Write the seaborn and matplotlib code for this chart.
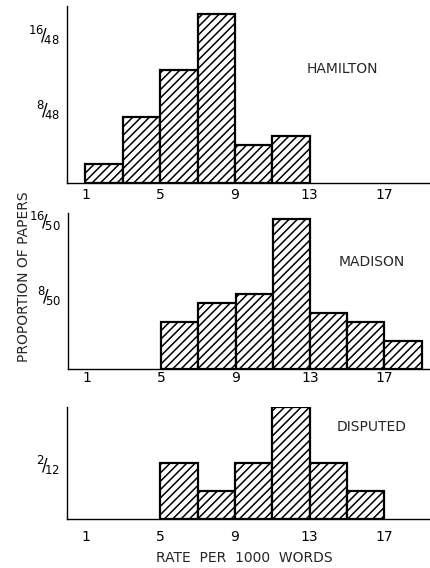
import numpy as np
import pandas as pd
import matplotlib
matplotlib.use('Agg')
import matplotlib.pyplot as plt
import seaborn as sns

sns.set_theme(style='white')
plt.rcParams['font.family'] = ['DejaVu Sans']
plt.rcParams['mathtext.fontset'] = 'dejavusans'
plt.rcParams['hatch.linewidth'] = 1.1

# datos: bins de ancho 2 (tasa por 1000 palabras) y numero de papeles por bin
hamilton_edges = [1, 3, 5, 7, 9, 11, 13]
hamilton_counts = [2, 7, 12, 18, 4, 5]
hamilton_total = 48

madison_edges = [5, 7, 9, 11, 13, 15, 17, 19]
madison_counts = [5, 7, 8, 16, 6, 5, 3]
madison_total = 50

disputed_edges = [5, 7, 9, 11, 13, 15, 17]
disputed_counts = [2, 1, 2, 4, 2, 1]
disputed_total = 12

x_ticks = [1, 5, 9, 13, 17]

panels = [
    ("HAMILTON", hamilton_edges, hamilton_counts, hamilton_total, [8, 16], 18.8),
    ("MADISON", madison_edges, madison_counts, madison_total, [8, 16], 16.6),
    ("DISPUTED", disputed_edges, disputed_counts, disputed_total, [2], 4.02),
]
# posiciones de los ejes en fraccion de figura (left, bottom, width, height)
boxes = [
    (0.155, 0.678, 0.845, 0.311),
    (0.158, 0.350, 0.842, 0.275),
    (0.155, 0.0857, 0.845, 0.198),
]
label_pos = [(0.795, 0.878), (0.863, 0.538), (0.863, 0.248)]
x_pads = [4, 1, 8]

fig = plt.figure(figsize=(4.31, 5.68), dpi=100)

for (nombre, edges, counts, total, yt, ytop), box, lp, xp in zip(panels, boxes, label_pos, x_pads):
    ax = fig.add_axes(box)
    df = pd.DataFrame({"tasa": [(a + b) / 2 for a, b in zip(edges[:-1], edges[1:])],
                       "prop": np.array(counts) / total})
    sns.histplot(data=df, x="tasa", weights="prop", bins=list(edges), stat='count',
                 color='white', edgecolor='black', linewidth=1.6,
                 hatch='////', alpha=1, ax=ax)
    ax.set_xlim(0, 19.5)
    ax.set_ylim(0, ytop / total)
    ax.set_xticks(x_ticks)
    ax.set_xticklabels([str(t) for t in x_ticks], fontsize=10)
    ax.set_yticks([v / total for v in yt])
    ax.set_yticklabels([rf"$^{{{v}}}\!/\!_{{{total}}}$" for v in yt], fontsize=12)
    ax.tick_params(axis='both', direction='in', length=4, width=0.8, colors='black')
    ax.tick_params(axis='x', pad=xp)
    ax.tick_params(axis='y', pad=5)
    ax.set_xlabel('')
    ax.set_ylabel('')
    for s in ['top', 'right']:
        ax.spines[s].set_visible(False)
    for s in ['left', 'bottom']:
        ax.spines[s].set_color('black')
        ax.spines[s].set_linewidth(1.0)
    fig.text(lp[0], lp[1], nombre, ha='center', va='center', fontsize=10)

fig.text(0.055, 0.512, "PROPORTION OF PAPERS", rotation=90, ha='center', va='center', fontsize=10)
fig.text(0.568, 0.018, "RATE  PER  1000  WORDS", ha='center', va='center', fontsize=10)

fig.savefig('out.png', dpi=100)
